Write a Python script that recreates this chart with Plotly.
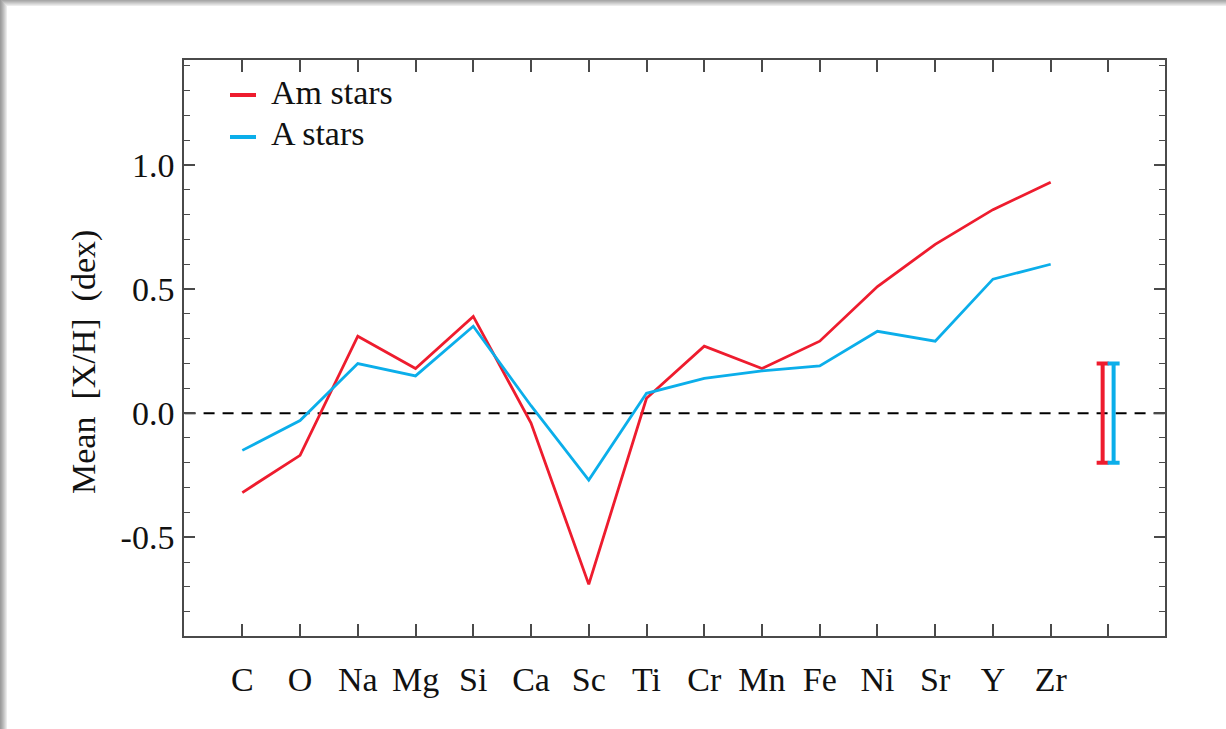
import plotly.graph_objects as go

# Elements along the x axis
elements = ["C", "O", "Na", "Mg", "Si", "Ca", "Sc", "Ti", "Cr", "Mn", "Fe", "Ni", "Sr", "Y", "Zr"]

# Mean abundances [X/H] in dex
am_stars = [-0.32, -0.17, 0.31, 0.18, 0.39, -0.04, -0.69, 0.06, 0.27, 0.18, 0.29, 0.51, 0.68, 0.82, 0.93]
a_stars = [-0.15, -0.03, 0.20, 0.15, 0.35, 0.03, -0.27, 0.08, 0.14, 0.17, 0.19, 0.33, 0.29, 0.54, 0.60]

# Typical uncertainty shown to the right of the abundance pattern
typical_error = 0.2

y_tickvals = [-0.5, 0.0, 0.5, 1.0]
y_ticktext = ["-0.5", "0.0", "0.5", "1.0"]

RED = "#EE1C2E"
BLUE = "#0BAEEA"
AXIS = "#4a4a4a"
FONT = "Liberation Serif"
FS = 34

x_idx = list(range(len(elements)))

fig = go.Figure()

# zero reference line
fig.add_trace(go.Scatter(
    x=[-1, 16], y=[0, 0], mode="lines",
    line=dict(color="black", width=2, dash="11px,8px"),
    hoverinfo="skip", showlegend=False,
))

fig.add_trace(go.Scatter(
    x=x_idx, y=am_stars, mode="lines", name="Am stars",
    line=dict(color=RED, width=2.8), showlegend=False,
))
fig.add_trace(go.Scatter(
    x=x_idx, y=a_stars, mode="lines", name="A stars",
    line=dict(color=BLUE, width=2.8), showlegend=False,
))

# error bars for each group
for xpos, col in [(14.9, RED), (15.09, BLUE)]:
    fig.add_trace(go.Scatter(
        x=[xpos], y=[0], mode="markers",
        marker=dict(size=1, color=col, opacity=0),
        error_y=dict(type="constant", value=typical_error, color=col,
                     thickness=4, width=6),
        showlegend=False, hoverinfo="skip",
    ))

W, H = 1226, 729
L, R, T, B = 184, 61, 60, 93
pw, ph = W - L - R, H - T - B


def px_x(p):
    return (p - L) / pw


def px_y(p):
    return 1 - (p - T) / ph


shapes = []
# drop shadow along the top and left edges of the page
left_grays = ["#9c9c9c", "#a6a6a6", "#b2b2b2", "#bfbfbf", "#cdcdcd", "#dcdcdc", "#ebebeb"]
for i, g in enumerate(left_grays):
    shapes.append(dict(type="rect", xref="paper", yref="paper",
                       x0=px_x(i), x1=px_x(i + 1), y0=px_y(H), y1=px_y(0),
                       fillcolor=g, line=dict(width=0), layer="below"))
top_grays = ["#a8a8a8", "#b4b4b4", "#c2c2c2", "#d0d0d0", "#dedede", "#ececec"]
for i, g in enumerate(top_grays):
    shapes.append(dict(type="rect", xref="paper", yref="paper",
                       x0=px_x(i + 1), x1=px_x(W), y0=px_y(i + 1), y1=px_y(i),
                       fillcolor=g, line=dict(width=0), layer="below"))

# legend samples
for yy, col in [(95, RED), (137, BLUE)]:
    shapes.append(dict(type="line", xref="paper", yref="paper",
                       x0=px_x(230), x1=px_x(256), y0=px_y(yy), y1=px_y(yy),
                       line=dict(color=col, width=4)))

annotations = [
    dict(text="Am stars", xref="paper", yref="paper", x=px_x(269), y=px_y(92),
         xanchor="left", yanchor="middle", showarrow=False,
         font=dict(family=FONT, size=FS, color="#111")),
    dict(text="A stars", xref="paper", yref="paper", x=px_x(269), y=px_y(133),
         xanchor="left", yanchor="middle", showarrow=False,
         font=dict(family=FONT, size=FS, color="#111")),
    dict(text="Mean  [X/H]  (dex)", xref="paper", yref="paper",
         x=px_x(84), y=px_y(362), xanchor="center", yanchor="middle",
         textangle=-90, showarrow=False,
         font=dict(family=FONT, size=FS, color="#111")),
]

fig.update_layout(
    width=W, height=H,
    margin=dict(l=L, r=R, t=T, b=B, pad=0),
    paper_bgcolor="white", plot_bgcolor="white",
    font=dict(family=FONT, size=FS, color="#111"),
    shapes=shapes, annotations=annotations,
    showlegend=False,
)

fig.update_xaxes(
    range=[-1.01, 15.98],
    tickvals=list(range(16)), ticktext=elements + [""],
    ticks="inside", ticklen=12, tickwidth=1.5, tickcolor=AXIS,
    showline=True, linecolor=AXIS, linewidth=1.5, mirror="allticks",
    showgrid=False, zeroline=False,
    ticklabelstandoff=12,
    tickfont=dict(family=FONT, size=FS, color="#111"),
)
fig.update_yaxes(
    range=[-0.898, 1.423],
    tickvals=y_tickvals, ticktext=y_ticktext,
    ticks="inside", ticklen=11, tickwidth=1.5, tickcolor=AXIS,
    minor=dict(dtick=0.1, ticks="inside", ticklen=6, tickwidth=1.2, tickcolor=AXIS, showgrid=False),
    showline=True, linecolor=AXIS, linewidth=1.5, mirror="allticks",
    showgrid=False, zeroline=False,
    ticklabelstandoff=1,
    tickfont=dict(family=FONT, size=FS, color="#111"),
)

fig.write_html("out.html")
